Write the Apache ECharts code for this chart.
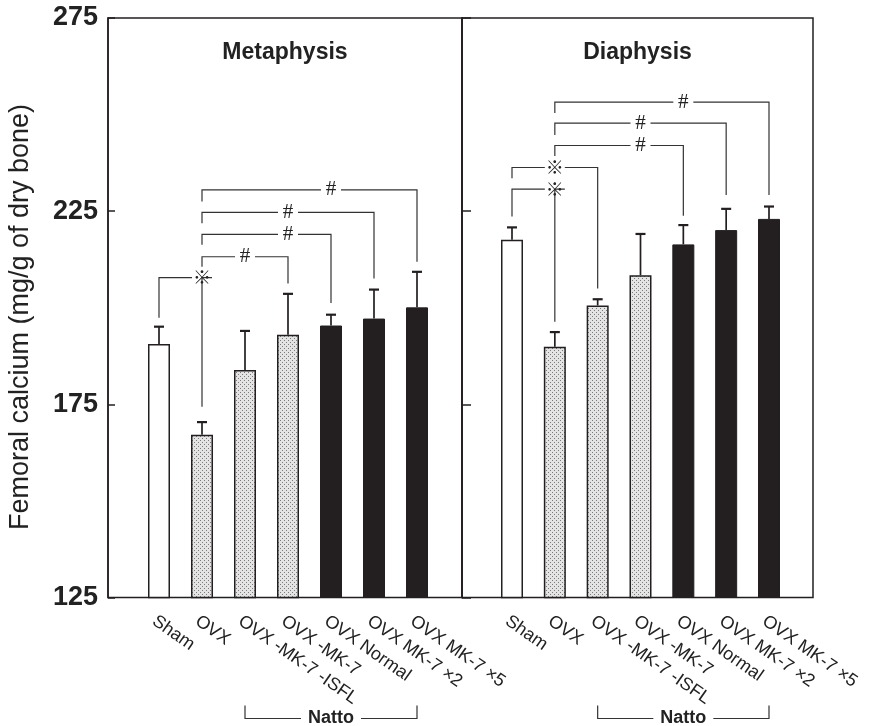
<!DOCTYPE html>
<html><head><meta charset="utf-8">
<script src="https://cdn.jsdelivr.net/npm/echarts@6/dist/echarts.min.js"></script>
<style>html,body{margin:0;padding:0;background:#fff}#c{width:872px;height:726px}</style>
</head><body><div id="c"></div>
<script>
const categories = ['Sham','OVX','OVX -MK-7 -ISFL','OVX -MK-7','OVX Normal','OVX MK-7 \u00d72','OVX MK-7 \u00d75'];
const groups = ['sham','ovx','ovx','ovx','natto','natto','natto'];
const metaMean = [190.6,167.1,183.9,193.0,195.4,197.2,200.1];
const metaErr  = [4.5,3.3,10.1,10.6,2.8,7.5,9.2];
const diaMean  = [217.6,189.9,200.6,208.4,216.4,220.1,223.0];
const diaErr   = [3.2,3.8,1.6,10.7,5.0,5.5,3.2];
const yMin = 125, yMax = 275, yStep = 50;
// brackets: [fromIdx, toIdx, level, fromLegEnd, toLegEnd, labelAt, mark]
const metaBrackets = [
  [0,1,207.8,197.4,174.4,0.5,'\u203b'],
  [1,3,213.2,210.6,206.3,2,'#'],
  [1,4,219.0,216.3,201.2,2.5,'#'],
  [1,5,224.7,221.9,207.6,3,'#'],
  [1,6,230.5,227.5,211.9,3.5,'#']
];
const diaBrackets = [
  [0,1,230.7,223.6,196.4,0.5,'\u203b'],
  [0,2,236.3,233.5,205.0,0.5,'\u203b'],
  [1,4,242.0,239.3,223.8,2.5,'#'],
  [1,5,247.8,244.7,229.2,3,'#'],
  [1,6,253.2,250.4,229.2,3.5,'#']
];
const nattoSpan = [2,6];
const nattoLabel = 'Natto';
const panelTitles = ['Metaphysis','Diaphysis'];
const yTitle = 'Femoral calcium (mg/g of dry bone)';

const FONT = '"Liberation Sans", Arial, Helvetica, sans-serif';
const INK = '#231f20';

function makeDots(){
  const c=document.createElement('canvas'); c.width=4; c.height=4;
  const g=c.getContext('2d');
  g.fillStyle='#e4e4e4'; g.fillRect(0,0,4,4);
  g.fillStyle='#7a7a7a'; g.fillRect(0,0,1,1); g.fillRect(2,2,1,1);
  return c;
}
const dots = makeDots();
function styleFor(g){
  if(g==='sham') return {color:'#ffffff', borderColor:INK, borderWidth:1.5};
  if(g==='ovx') return {color:{image:dots, repeat:'repeat'}, borderColor:INK, borderWidth:1.5};
  return {color:INK, borderColor:INK, borderWidth:1};
}

function errRender(errs){
  return function(params, api){
    const i = params.dataIndex;
    const v = api.value(1);
    const b = api.coord([i, v]);
    const t = api.coord([i, v + errs[i]]);
    return {type:'group', children:[
      {type:'line', shape:{x1:b[0],y1:b[1],x2:t[0],y2:t[1]}, style:{stroke:INK,lineWidth:1.7}},
      {type:'line', shape:{x1:t[0]-5,y1:t[1],x2:t[0]+5,y2:t[1]}, style:{stroke:INK,lineWidth:2.2}}
    ]};
  };
}
function bracketRender(list){
  return function(params, api){
    const br = list[params.dataIndex];
    const a0 = api.coord([br[0], br[3]]);
    const a1 = api.coord([br[0], br[2]]);
    const b1 = api.coord([br[1], br[2]]);
    const b0 = api.coord([br[1], br[4]]);
    const lx = api.coord([br[5], br[2]])[0];
    const gap = 10;
    const st = {stroke:'#333', lineWidth:1.2, fill:null};
    const isRef = br[6] !== '#';
    return {type:'group', children:[
      {type:'polyline', shape:{points:[a0,a1,[lx-gap,a1[1]]]}, style:st},
      {type:'polyline', shape:{points:[[lx+gap,b1[1]],b1,b0]}, style:st},
      {type:'text', x:lx, y:a1[1], style:{text:br[6], align:'center', verticalAlign:'middle',
        fontSize: isRef?18:21, fill:'#222',
        fontFamily: isRef ? '"Noto Sans CJK JP", sans-serif' : '"Liberation Serif", serif'}}
    ]};
  };
}
function nattoRender(params, api){
  const base0 = api.coord([nattoSpan[0], yMin]);
  const base1 = api.coord([nattoSpan[1], yMin]);
  const yLine = base0[1] + 121, yTop = base0[1] + 108;
  const mid = (base0[0] + base1[0]) / 2;
  const half = 30;
  const st = {stroke:'#333', lineWidth:1.2, fill:null};
  return {type:'group', children:[
    {type:'polyline', shape:{points:[[base0[0],yTop],[base0[0],yLine],[mid-half,yLine]]}, style:st},
    {type:'polyline', shape:{points:[[mid+half,yLine],[base1[0],yLine],[base1[0],yTop]]}, style:st},
    {type:'text', x:mid, y:yLine, style:{text:nattoLabel, align:'center', verticalAlign:'middle',
      fontSize:18, fontWeight:'bold', fill:'#222', fontFamily:FONT}}
  ]};
}

const chart = echarts.init(document.getElementById('c'), null, {renderer:'canvas'});
const gTop = 18, gBottom = 128.5, labelShift = 5;
const frameGrid = (l,r)=>({left:l, right:r, top:gTop, bottom:gBottom, show:true, borderColor:INK, borderWidth:1.5, backgroundColor:'transparent'});
const barGrid = (l,r)=>({left:l, right:r, top:gTop, bottom:gBottom});
const hiddenX = (gi)=>({type:'value', gridIndex:gi, min:0, max:1, show:false});
const barX = (gi)=>({type:'category', gridIndex:gi, data:categories, boundaryGap:false,
  axisLine:{show:false}, axisTick:{show:false}, axisLabel:{show:false}});
const labelX = (gi)=>({type:'category', gridIndex:gi, data:categories, boundaryGap:false,
  axisLine:{show:false}, axisTick:{show:false},
  axisLabel:{rotate:-35, interval:0, margin:22, fontSize:18, color:'#222', fontFamily:FONT, hideOverlap:false}});
const hiddenY = (gi)=>({type:'value', gridIndex:gi, min:yMin, max:yMax, show:false});
const frameY = (gi, showLabels, tickLen)=>({type:'value', gridIndex:gi, min:yMin, max:yMax, interval:yStep,
  axisLine:{show:true, lineStyle:{color:INK, width:1.5}},
  axisTick:{show:true, inside:true, length:tickLen, lineStyle:{color:INK, width:1.5}},
  splitLine:{show:false},
  axisLabel:{show:showLabels, fontSize:27, fontWeight:'bold', color:'#222', fontFamily:FONT, margin:10, padding:[4,0,0,0]}
});

function panelSeries(means, errs, brackets, gi){
  return [
    {type:'bar', xAxisIndex:gi, yAxisIndex:gi, barWidth:22, silent:true,
      data: means.map((v,i)=>({value:v, itemStyle:styleFor(groups[i])}))},
    {type:'custom', xAxisIndex:gi, yAxisIndex:gi, silent:true, renderItem:errRender(errs),
      data: means.map((v,i)=>[i, v]), z:3},
    {type:'custom', xAxisIndex:gi, yAxisIndex:gi, silent:true, renderItem:bracketRender(brackets),
      data: brackets.map(b=>[b[0], b[2]]), z:3},
    {type:'custom', xAxisIndex:gi, yAxisIndex:gi, silent:true, renderItem:nattoRender,
      data:[[nattoSpan[0], yMin]], z:3}
  ];
}

chart.setOption({
  animation:false,
  backgroundColor:'#ffffff',
  grid:[frameGrid(108, 410), barGrid(159, 455), frameGrid(462, 59), barGrid(512, 103),
        barGrid(159-labelShift, 455+labelShift), barGrid(512-labelShift, 103+labelShift)],
  xAxis:[hiddenX(0), barX(1), hiddenX(2), barX(3), labelX(4), labelX(5)],
  yAxis:[frameY(0, true, 7), hiddenY(1), frameY(2, false, 9), hiddenY(3), hiddenY(4), hiddenY(5)],
  graphic:[
    {type:'text', x:285, y:53, style:{text:panelTitles[0], align:'center', verticalAlign:'middle', fill:'#222', font:'bold 23px '+FONT}},
    {type:'text', x:637.5, y:53, style:{text:panelTitles[1], align:'center', verticalAlign:'middle', fill:'#222', font:'bold 23px '+FONT}},
    {type:'text', x:21, y:317, rotation:Math.PI/2, style:{text:yTitle, align:'center', verticalAlign:'middle', fill:'#222', font:'27px '+FONT}}
  ],
  series:[].concat(panelSeries(metaMean, metaErr, metaBrackets, 1), panelSeries(diaMean, diaErr, diaBrackets, 3))
});
</script></body></html>
